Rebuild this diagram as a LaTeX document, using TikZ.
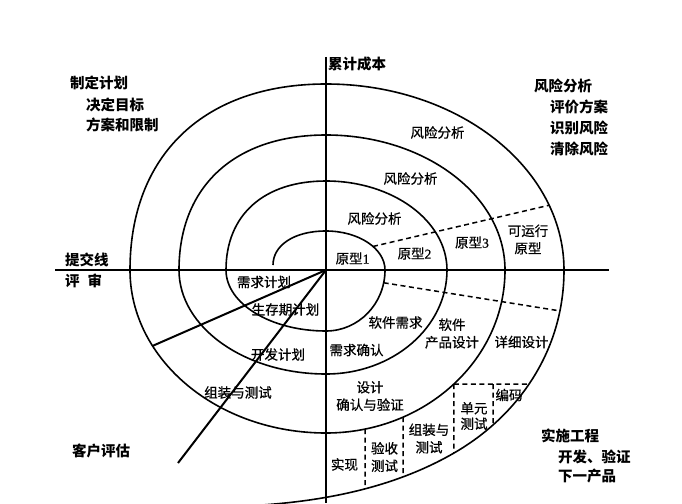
\documentclass[tikz,border=0pt]{standalone}
\usepackage{fontspec}
\setmainfont{Noto Sans CJK SC}
\newfontfamily\inner{Noto Sans CJK SC}[FakeBold=0.7]
\newfontfamily\lat{Liberation Serif}[FakeBold=0.7]
\usetikzlibrary{intersections,calc}
\begin{document}
\begin{tikzpicture}[x=1pt,y=-1pt,
  lbl/.style={font=\fontsize{13.5}{17.5}\selectfont\inner, inner sep=0pt, align=center},
  corner/.style={font=\fontsize{14.5}{17}\selectfont\bfseries, inner sep=0pt, anchor=west},
  curve/.style={line width=1.6pt},
  axis/.style={line width=2pt},
  dsh/.style={line width=1.5pt, dash pattern=on 5pt off 3.5pt}]
\fill[white] (0,0) rectangle (682,503);
\useasboundingbox (0,0) rectangle (682,503);
\clip (0,0) rectangle (682,503);

% axes
\coordinate (O) at (326,270);
\coordinate (Ytop) at (326,57);
\coordinate (Ybot) at (326,503);
\coordinate (Xl) at (55,270);
\coordinate (Xr) at (609,270);
\draw[axis] (Ytop) -- (Ybot);
\draw[axis] (Xl) -- (Xr);

% spiral
\draw[curve] (273,265) .. controls (273,246) and (293,231) .. (326,231)
 .. controls (358.6,231) and (385,248.5) .. (385,270)
 .. controls (385,303.7) and (358.6,331) .. (326,331)
 .. controls (270.8,331) and (226,303.7) .. (226,270)
 .. controls (226,214.8) and (264,181) .. (326,181)
 .. controls (392.8,181) and (447,220.9) .. (447,270)
 .. controls (447,327.4) and (392.8,374) .. (326,374)
 .. controls (244.9,374) and (179,327.4) .. (179,270)
 .. controls (179,186.3) and (234.9,135) .. (326,135)
 .. controls (424.8,135) and (505,195.5) .. (505,270)
 .. controls (505,360) and (424.8,433) .. (326,433)
 .. controls (217.8,433) and (130,360) .. (130,270)
 .. controls (130,154.7) and (204.5,84) .. (326,84)
 .. controls (457.4,84) and (564,167.3) .. (564,270)
 .. controls (564,350) and (519,415.5) .. (454,453)
 .. controls (396,486.5) and (329,500.3) .. (262,505);

% named pieces for intersections
\path[name path=ur1] (326,231) .. controls (358.6,231) and (385,248.5) .. (385,270);
\path[name path=ur4] (326,84) .. controls (457.4,84) and (564,167.3) .. (564,270);
\path[name path=lr1] (385,270) .. controls (385,303.7) and (358.6,331) .. (326,331);
\path[name path=lr3] (505,270) .. controls (505,360) and (424.8,433) .. (326,433);
\path[name path=ll3] (326,433) .. controls (217.8,433) and (130,360) .. (130,270);
\path[name path=lr4] (564,270) .. controls (564,350) and (519,415.5) .. (454,453)
 .. controls (396,486.5) and (329,500.3) .. (262,505);

% upper dashed line
\path[name path=du] (360,249.5) -- (572,199.9);
\path[name intersections={of=du and ur1, by=du1}];
\path[name intersections={of=du and ur4, by=du4}];
\draw[dsh] (du1) -- (du4);

% lower dashed line
\path[name path=dl] (372,280.9) -- (578,313.8);
\path[name intersections={of=dl and lr1, by=dl1}];
\path[name intersections={of=dl and lr4, by=dl4}];
\draw[dsh] (dl1) -- (dl4);

% solid lines from the centre
\path[name path=s1] (O) -- (110,364.5);
\path[name intersections={of=s1 and ll3, by=S1}];
\draw[axis] (O) -- (S1);
\coordinate (S2) at (178,463);
\draw[axis] (O) -- (S2);

% dashed boxes
\path[name path=hb] (440,384) -- (570,384);
\path[name intersections={of=hb and lr3, by=hb3}];
\path[name intersections={of=hb and lr4, by=hb4}];
\draw[dsh] (hb3) -- (hb4);
\path[name path=va] (365,400) -- (365,520);
\path[name intersections={of=va and lr3, by=va3}];
\path[name intersections={of=va and lr4, by=va4}];
\draw[dsh] (va3) -- (va4);
\path[name path=vb] (403,390) -- (403,520);
\path[name intersections={of=vb and lr3, by=vb3}];
\path[name intersections={of=vb and lr4, by=vb4}];
\draw[dsh] (vb3) -- (vb4);
\path[name path=vc] (hb3) -- ++(0,140);
\path[name intersections={of=vc and lr4, by=vc4}];
\draw[dsh] (hb3) -- (vc4);
\coordinate (vd0) at (493,384);
\path[name path=vd] (vd0) -- (493,520);
\path[name intersections={of=vd and lr4, by=vd4}];
\draw[dsh] (vd0) -- (vd4);

% corner texts
\node[corner] (tl1) at (70,82.5) {制定计划};
\node[corner] (tl2) at (86,104.5) {决定目标};
\node[corner] (tl3) at (86,125) {方案和限制};
\node[corner] (tr1) at (534,85.5) {风险分析};
\node[corner] (tr2) at (550,106.5) {评价方案};
\node[corner] (tr3) at (550,127.5) {识别风险};
\node[corner] (tr4) at (550,148.5) {清除风险};
\node[corner] (br1) at (541,435.5) {实施工程};
\node[corner] (br2) at (558,456.5) {开发、验证};
\node[corner] (br3) at (558,476.5) {下一产品};
\node[corner] (ce) at (72,451) {客户评估};
\node[corner] (tj) at (65,260) {提交线};
\node[corner] (ps) at (65,280.5) {评\hspace{0.55em}审};
\node[corner] (lj) at (328,63.5) {累计成本};

% inner texts
\node[lbl] (ra1) at (437.5,132.5) {风险分析};
\node[lbl] (ra2) at (410.5,178.5) {风险分析};
\node[lbl] (ra3) at (374.5,218.5) {风险分析};
\node[lbl] (p1) at (352.5,258.5) {原型{\lat 1}};
\node[lbl] (p2) at (414.5,253.5) {原型{\lat 2}};
\node[lbl] (p3) at (472,242.5) {原型{\lat 3}};
\node[lbl] (p4) at (528,239.5) {可运行\\原型};
\node[lbl] (q1) at (264,282) {需求计划};
\node[lbl] (q2) at (285.5,309.5) {生存期计划};
\node[lbl] (q3) at (278,354.5) {开发计划};
\node[lbl] (q4) at (238,392.5) {组装与测试};
\node[lbl] (d1) at (395.5,322.5) {软件需求};
\node[lbl] (d2) at (356.5,350) {需求确认};
\node[lbl] (d3) at (452,333.5) {软件\\产品设计};
\node[lbl] (d4) at (521.5,342) {详细设计};
\node[lbl] (d5) at (370,396) {设计\\确认与验证};
\node[lbl] (e1) at (509,395) {编码};
\node[lbl] (e2) at (474,416) {单元\\[-2pt]测试};
\node[lbl] (e3) at (429,438.5) {组装与\\测试};
\node[lbl] (e4) at (384.5,457) {验收\\测试};
\node[lbl] (e5) at (344.5,464.5) {实现};
\end{tikzpicture}
\end{document}
